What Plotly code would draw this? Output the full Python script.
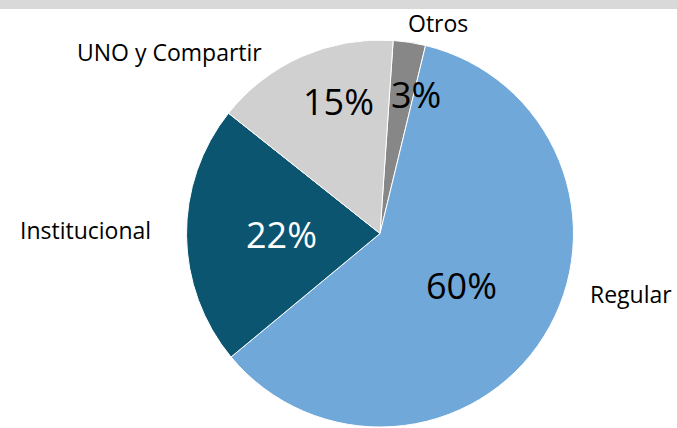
import plotly.graph_objects as go

categories = ["Otros", "Regular", "Institucional", "UNO y Compartir"]
values = [2.7, 60.2, 21.7, 15.4]
colors = ["#878787", "#70A8D9", "#0B5570", "#D0D0D0"]
pct_colors = ["black", "black", "white", "black"]

# category-name label positions (paper fractions)
label_x = [0.647, 0.932, 0.126, 0.251]
label_y = [0.946, 0.313, 0.463, 0.878]
# percentage label positions (paper fractions)
pct_x = [0.6145, 0.681, 0.4165, 0.5007]
pct_y = [0.780, 0.332, 0.451, 0.764]

total = sum(values)

fig = go.Figure()
fig.add_trace(go.Pie(
    labels=categories,
    values=values,
    sort=False,
    direction="clockwise",
    rotation=3.9,
    marker=dict(colors=colors, line=dict(color="white", width=1)),
    textinfo="none",
    showlegend=False,
    hoverinfo="label+percent",
    domain=dict(x=[0.2755, 0.8471], y=[0.0023, 0.9065]),
))

for name, v, c, px, py, lx, ly in zip(categories, values, pct_colors, pct_x, pct_y, label_x, label_y):
    fig.add_annotation(text=f"{round(v / total * 100)}%", x=px, y=py, xref="paper", yref="paper",
                       showarrow=False, xanchor="center", yanchor="middle",
                       font=dict(family="Open Sans", size=36, color=c))
    fig.add_annotation(text=name, x=lx, y=ly, xref="paper", yref="paper",
                       showarrow=False, xanchor="center", yanchor="middle",
                       font=dict(family="Open Sans", size=23, color="black"))

fig.add_shape(type="rect", xref="paper", yref="paper", x0=0, x1=1, y0=1 - 9 / 428, y1=1,
              fillcolor="#D9D9D9", line=dict(width=0), layer="below")

fig.update_layout(
    width=677, height=428,
    margin=dict(l=0, r=0, t=0, b=0),
    paper_bgcolor="white", plot_bgcolor="white",
)

fig.write_html("out.html", config={"displayModeBar": False},
               post_script="document.body.style.margin='0';document.body.style.overflow='hidden';")
